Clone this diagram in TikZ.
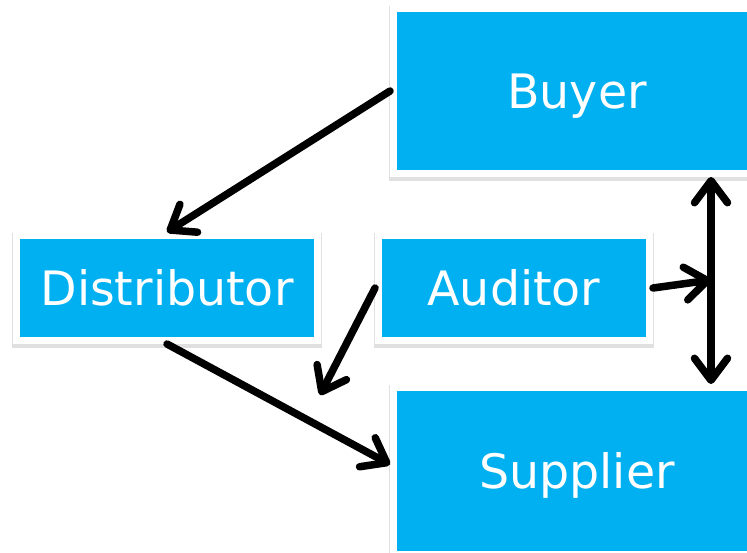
\documentclass[tikz,border=0pt]{standalone}
\usepackage{fontspec}
\setmainfont{DejaVu Sans}
\usetikzlibrary{arrows.meta}
\definecolor{boxblue}{HTML}{00B0F0}

\begin{document}
\begin{tikzpicture}[x=0.02cm,y=-0.02cm,
	party/.style={fill=boxblue, draw=white, line width=0.14cm, text=white,
		font=\fontsize{27}{32}\selectfont, inner sep=0pt,
		text height=19.7pt, text depth=0pt,
		preaction={draw=black!12, line width=0.2cm, transform canvas={yshift=-1.3pt}}},
	arr/.style={line width=0.15cm, line cap=round,
		-{Straight Barb[length=0.44cm, width=0.66cm, round]}},
	both/.style={arr, {Straight Barb[length=0.44cm, width=0.66cm, round]}-{Straight Barb[length=0.44cm, width=0.66cm, round]}}]
\clip (0,0) rectangle (747,552);

\node[party, minimum width=7.34cm, minimum height=3.3cm] (buyer) at (577,91) {Buyer};
\node[party, minimum width=6.02cm, minimum height=2.1cm] (distributor) at (167,288) {Distributor};
\node[party, minimum width=5.42cm, minimum height=2.1cm] (auditor) at (514,288) {Auditor};
\node[party, minimum width=7.34cm, minimum height=3.34cm] (supplier) at (577,471) {Supplier};

\coordinate (audend) at (320,395);
\coordinate (vline) at (711,280);

\draw [arr] (buyer.west) -- (distributor.north);
\draw [arr] (distributor.south) -- (supplier.178);
\draw [arr] (auditor.west) -- (audend);
\draw [arr] (auditor.east) -- (vline);
\draw [both] (vline |- buyer.south) -- (vline |- supplier.north);

\end{tikzpicture}
\end{document}
